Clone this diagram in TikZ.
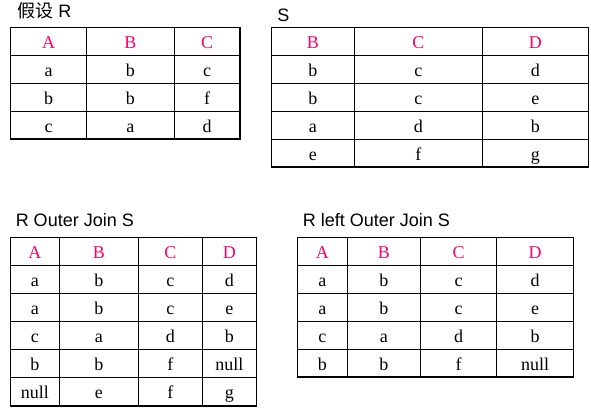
\documentclass[tikz,border=0pt]{standalone}
\usepackage{fontspec}
\setmainfont{Liberation Serif}
\newfontfamily\titlefont{Liberation Sans}
\newfontfamily\cjk{Noto Sans CJK SC}
\definecolor{headred}{HTML}{FF0066}

\begin{document}
\begin{tikzpicture}[x=0.75pt, y=-0.75pt,
cellnode/.style={anchor=base, inner sep=0pt, font=\fontsize{13.5}{16}\selectfont},
headnode/.style={cellnode, text=headred},
titlenode/.style={anchor=base west, inner sep=0pt, font=\fontsize{13.5}{16}\selectfont\titlefont},
gridline/.style={draw=black, line width=0.8pt},
]
\useasboundingbox (0,0) rectangle (591,410);

%Titles
\node[titlenode]      (rtitle)      at (17,17.5)     {{\cjk 假设} R};
\node[titlenode]      (stitle)      at (277,21.5)    {S};
\node[titlenode]      (outertitle)  at (15.5,226.5)  {R Outer Join S};
\node[titlenode]      (lefttitle)   at (302.5,226.5) {R left Outer Join S};

%Table R
\draw[gridline] (10.7,27.3) rectangle (240,139);
\foreach \y in {55.3,83.3,111.3} \draw[gridline] (10.7,\y) -- (240,\y);
\foreach \x in {86.3,174.3} \draw[gridline] (\x,27.3) -- (\x,139);
\foreach \x/\t [count=\i] in {48.5/A,130.3/B,207.2/C} \node[headnode] (r-0-\i) at (\x,48.3) {\t};
\foreach \x/\t [count=\i] in {48.5/a,130.3/b,207.2/c} \node[cellnode] (r-1-\i) at (\x,76.3) {\t};
\foreach \x/\t [count=\i] in {48.5/b,130.3/b,207.2/f} \node[cellnode] (r-2-\i) at (\x,104.3) {\t};
\foreach \x/\t [count=\i] in {48.5/c,130.3/a,207.2/d} \node[cellnode] (r-3-\i) at (\x,132.3) {\t};

%Table S
\draw[gridline] (271.3,27.3) rectangle (588.3,167);
\foreach \y in {55.3,83.3,111.3,139.3} \draw[gridline] (271.3,\y) -- (588.3,\y);
\foreach \x in {354.3,482.3} \draw[gridline] (\x,27.3) -- (\x,167);
\foreach \x/\t [count=\i] in {312.8/B,418.3/C,535.3/D} \node[headnode] (s-0-\i) at (\x,48.3) {\t};
\foreach \x/\t [count=\i] in {312.8/b,418.3/c,535.3/d} \node[cellnode] (s-1-\i) at (\x,76.3) {\t};
\foreach \x/\t [count=\i] in {312.8/b,418.3/c,535.3/e} \node[cellnode] (s-2-\i) at (\x,104.3) {\t};
\foreach \x/\t [count=\i] in {312.8/a,418.3/d,535.3/b} \node[cellnode] (s-3-\i) at (\x,132.3) {\t};
\foreach \x/\t [count=\i] in {312.8/e,418.3/f,535.3/g} \node[cellnode] (s-4-\i) at (\x,160.3) {\t};

%Table R Outer Join S
\draw[gridline] (10.3,237.3) rectangle (256.3,406);
\foreach \y in {265.3,293.3,321.3,349.3,377.3} \draw[gridline] (10.3,\y) -- (256.3,\y);
\foreach \x in {59.3,138.3,202.3} \draw[gridline] (\x,237.3) -- (\x,406);
\foreach \x/\t [count=\i] in {34.8/A,98.8/B,170.3/C,229.3/D} \node[headnode] (o-0-\i) at (\x,258.3) {\t};
\foreach \x/\t [count=\i] in {34.8/a,98.8/b,170.3/c,229.3/d} \node[cellnode] (o-1-\i) at (\x,286.3) {\t};
\foreach \x/\t [count=\i] in {34.8/a,98.8/b,170.3/c,229.3/e} \node[cellnode] (o-2-\i) at (\x,314.3) {\t};
\foreach \x/\t [count=\i] in {34.8/c,98.8/a,170.3/d,229.3/b} \node[cellnode] (o-3-\i) at (\x,342.3) {\t};
\foreach \x/\t [count=\i] in {34.8/b,98.8/b,170.3/f,229.3/null} \node[cellnode] (o-4-\i) at (\x,370.3) {\t};
\foreach \x/\t [count=\i] in {34.8/null,98.8/e,170.3/f,229.3/g} \node[cellnode] (o-5-\i) at (\x,398.6) {\t};

%Table R left Outer Join S
\draw[gridline] (297.3,237.3) rectangle (573.3,377);
\foreach \y in {265.3,293.3,321.3,349.3} \draw[gridline] (297.3,\y) -- (573.3,\y);
\foreach \x in {347.3,420.3,496.7} \draw[gridline] (\x,237.3) -- (\x,377);
\foreach \x/\t [count=\i] in {322.3/A,383.8/B,458.5/C,535/D} \node[headnode] (l-0-\i) at (\x,258.3) {\t};
\foreach \x/\t [count=\i] in {322.3/a,383.8/b,458.5/c,535/d} \node[cellnode] (l-1-\i) at (\x,286.3) {\t};
\foreach \x/\t [count=\i] in {322.3/a,383.8/b,458.5/c,535/e} \node[cellnode] (l-2-\i) at (\x,314.3) {\t};
\foreach \x/\t [count=\i] in {322.3/c,383.8/a,458.5/d,535/b} \node[cellnode] (l-3-\i) at (\x,342.3) {\t};
\foreach \x/\t [count=\i] in {322.3/b,383.8/b,458.5/f,535/null} \node[cellnode] (l-4-\i) at (\x,370.3) {\t};
\end{tikzpicture}
\end{document}
